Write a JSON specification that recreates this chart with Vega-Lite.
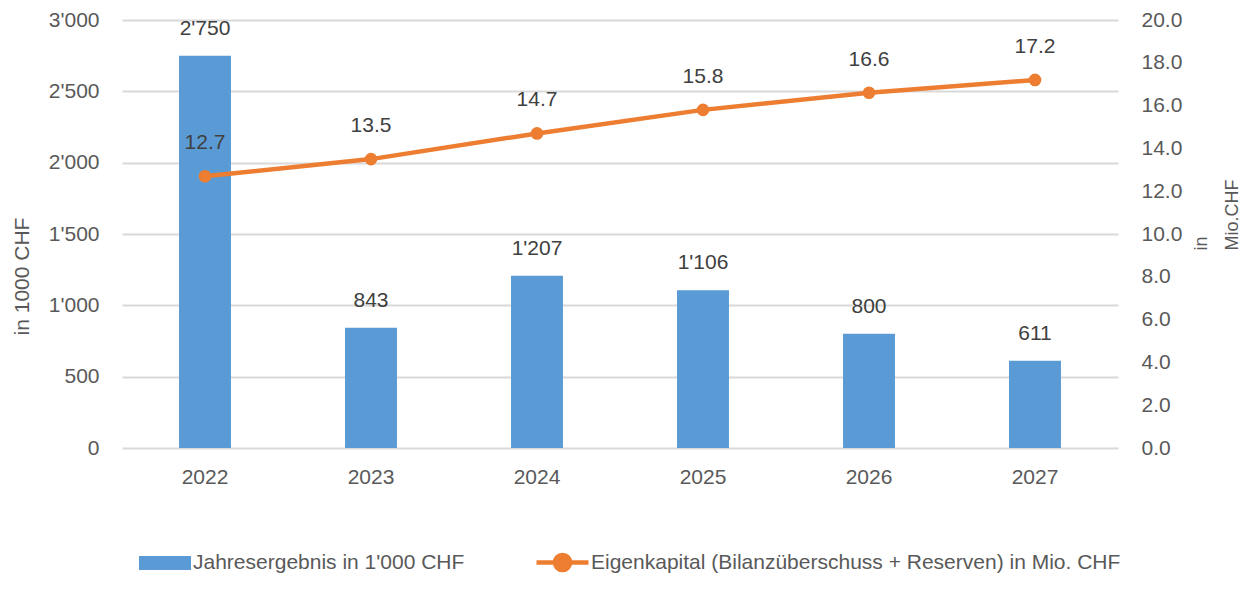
{
  "$schema": "https://vega.github.io/schema/vega-lite/v6.json",
  "autosize": {"type": "none"},
  "width": 996,
  "height": 428,
  "padding": {"left": 122, "top": 20, "right": 131, "bottom": 150},
  "background": "white",
  "config": {
    "locale": {"number": {"decimal": ".", "thousands": "'", "grouping": [3], "currency": ["", ""]}},
    "font": "Liberation Sans",
    "view": {"stroke": null},
    "axis": {"labelFont": "Liberation Sans", "labelFontSize": 21, "labelColor": "#595959", "titleFont": "Liberation Sans", "titleFontWeight": "normal", "titleColor": "#595959", "domain": false, "ticks": false},
    "legend": {"labelFont": "Liberation Sans", "labelFontSize": 21, "labelColor": "#595959", "padding": 0, "labelLimit": 700}
  },
  "data": {"values": [
    {"year": "2022", "ergebnis": 2750, "eigenkapital": 12.7},
    {"year": "2023", "ergebnis": 843, "eigenkapital": 13.5},
    {"year": "2024", "ergebnis": 1207, "eigenkapital": 14.7},
    {"year": "2025", "ergebnis": 1106, "eigenkapital": 15.8},
    {"year": "2026", "ergebnis": 800, "eigenkapital": 16.6},
    {"year": "2027", "ergebnis": 611, "eigenkapital": 17.2}
  ]},
  "encoding": {
    "x": {"field": "year", "type": "nominal", "title": null,
      "scale": {"paddingInner": 0.687, "paddingOuter": 0.3435},
      "axis": {"labelAngle": 0, "labelPadding": 18, "grid": false}}
  },
  "layer": [
    {
      "encoding": {
        "y": {"field": "ergebnis", "type": "quantitative",
          "scale": {"domain": [0, 3000]},
          "axis": {"orient": "left", "values": [0, 500, 1000, 1500, 2000, 2500, 3000], "format": ",d",
            "grid": true, "gridColor": "#D9D9D9", "gridWidth": 2, "labelPadding": 23,
            "title": "in 1000 CHF", "titleFontSize": 21, "titleAngle": -90, "titleX": -100, "titleY": 256,
            "titleAlign": "center", "titleBaseline": "middle"}}
      },
      "layer": [
        {
          "mark": {"type": "bar", "color": "#5B9BD5"},
          "encoding": {
            "fill": {"datum": "Jahresergebnis in 1'000 CHF", "type": "nominal",
              "scale": {"range": ["#5B9BD5"]},
              "legend": {"title": null, "orient": "none", "legendX": 17, "legendY": 517,
                "symbolType": "M-1,-0.27H1V0.27H-1Z", "symbolSize": 2704, "symbolStrokeWidth": 0, "labelOffset": 2}}
          }
        },
        {
          "mark": {"type": "text", "baseline": "middle", "dy": -27, "fontSize": 21, "color": "#404040"},
          "encoding": {"text": {"field": "ergebnis", "type": "quantitative", "format": ",d"}}
        }
      ]
    },
    {
      "encoding": {
        "y": {"field": "eigenkapital", "type": "quantitative",
          "scale": {"domain": [0, 20]},
          "axis": {"orient": "right", "values": [0, 2, 4, 6, 8, 10, 12, 14, 16, 18, 20], "format": ".1f",
            "grid": false, "labelPadding": 23, "labelAlign": "left",
            "title": ["in", "Mio.CHF"], "titleFontSize": 18, "titleAngle": 270, "titleX": 88, "titleY": 230,
            "titleAlign": "left", "titleBaseline": "alphabetic", "titleLineHeight": 31}}
      },
      "layer": [
        {
          "mark": {"type": "line", "strokeWidth": 4.5},
          "encoding": {
            "stroke": {"datum": "Eigenkapital (Bilanzüberschuss + Reserven) in Mio. CHF", "type": "nominal",
              "scale": {"range": ["#ED7D31"]},
              "legend": {"title": null, "orient": "none", "legendX": 412, "legendY": 514,
                "symbolType": "M-1,0H1M0.29,0A0.29,0.29 0 1,1 -0.29,0A0.29,0.29 0 1,1 0.29,0",
                "symbolSize": 2704, "symbolStrokeWidth": 4.5, "symbolFillColor": "#ED7D31", "labelOffset": 0}}
          }
        },
        {
          "mark": {"type": "point", "filled": true, "size": 160, "color": "#ED7D31", "opacity": 1}
        },
        {
          "mark": {"type": "text", "baseline": "middle", "dy": -33, "fontSize": 21, "color": "#404040"},
          "encoding": {"text": {"field": "eigenkapital", "type": "quantitative", "format": ".1f"}}
        }
      ]
    }
  ],
  "resolve": {"scale": {"y": "independent", "fill": "independent", "stroke": "independent"}}
}
